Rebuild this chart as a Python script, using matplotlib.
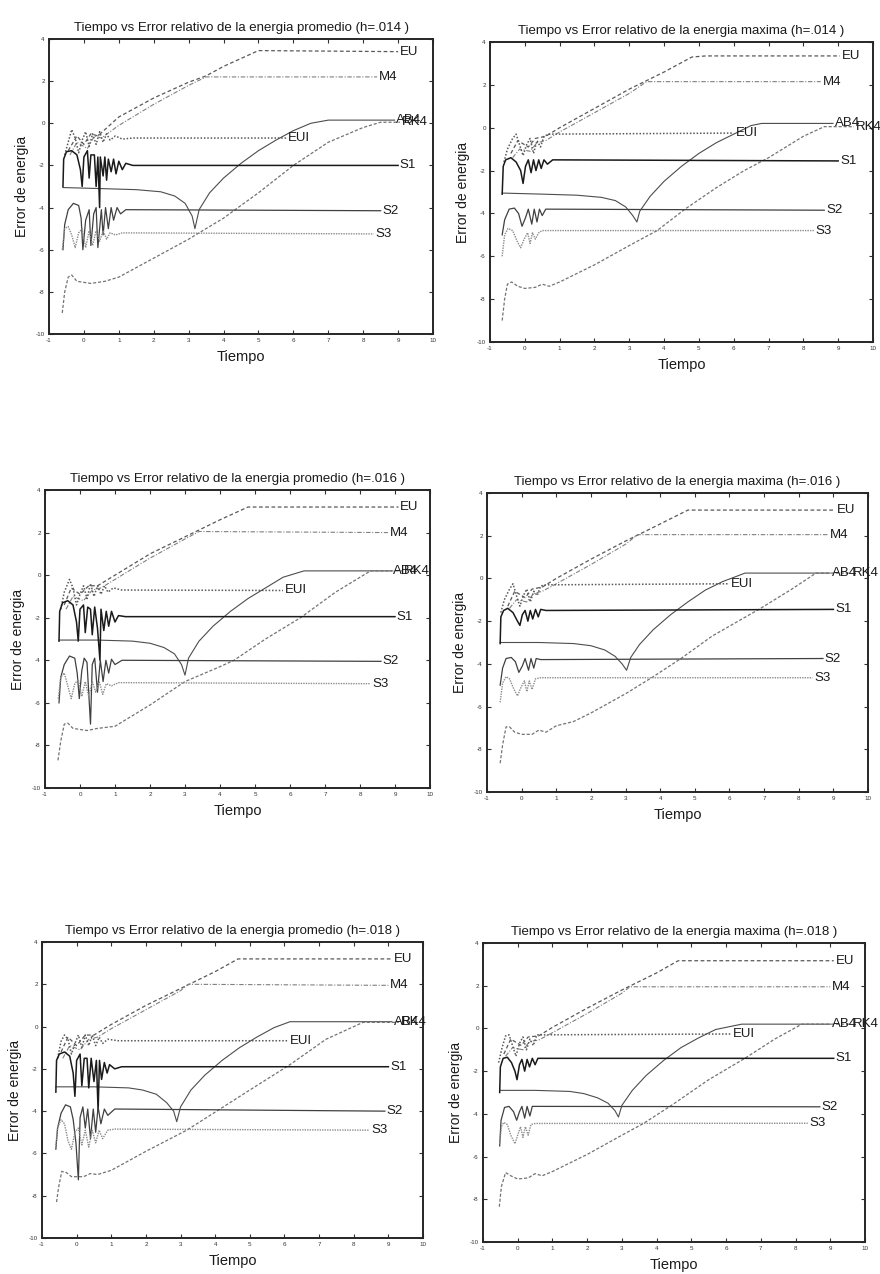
import matplotlib.pyplot as plt

plt.rcParams['font.family'] = ['Liberation Sans', 'DejaVu Sans']
plt.rcParams['axes.unicode_minus'] = False

# panel order: promedio .014, maxima .014, promedio .016, maxima .016, promedio .018, maxima .018
TITLES = [
    "Tiempo vs Error relativo de la energia promedio (h=.014 )",
    "Tiempo vs Error relativo de la energia maxima (h=.014 )",
    "Tiempo vs Error relativo de la energia promedio (h=.016 )",
    "Tiempo vs Error relativo de la energia maxima (h=.016 )",
    "Tiempo vs Error relativo de la energia promedio (h=.018 )",
    "Tiempo vs Error relativo de la energia maxima (h=.018 )",
]

EU = [
    [(-0.45, -1.3), (-0.2, -0.6), (0.0, -1.0), (0.2, -0.5), (0.4, -0.6), (0.6, -0.3), (1.0, 0.3), (2.0, 1.2), (3.0, 1.95), (3.5, 2.25), (4.0, 2.7), (5.0, 3.45), (9.0, 3.4)],
    [(-0.4, -1.2), (-0.2, -0.6), (0.1, -0.9), (0.3, -0.5), (0.6, -0.4), (1.0, 0.0), (2.0, 0.9), (3.0, 1.8), (4.0, 2.6), (4.8, 3.3), (5.2, 3.35), (9.05, 3.35)],
    [(-0.45, -1.4), (-0.25, -0.6), (0.0, -0.9), (0.25, -0.5), (0.5, -0.5), (1.0, 0.0), (2.0, 1.0), (3.0, 1.8), (4.0, 2.6), (4.8, 3.2), (9.1, 3.2)],
    [(-0.4, -1.3), (-0.2, -0.6), (0.1, -0.9), (0.3, -0.5), (0.6, -0.4), (1.0, 0.0), (2.0, 0.9), (3.0, 1.75), (4.0, 2.55), (4.8, 3.2), (9.05, 3.2)],
    [(-0.45, -1.2), (-0.25, -0.5), (0.0, -0.9), (0.25, -0.4), (0.5, -0.4), (1.0, 0.1), (2.0, 1.0), (3.0, 1.8), (4.0, 2.6), (4.66, 3.2), (9.1, 3.2)],
    [(-0.4, -1.2), (-0.2, -0.5), (0.1, -0.8), (0.3, -0.4), (0.6, -0.35), (1.0, 0.05), (2.0, 0.95), (3.0, 1.8), (4.0, 2.6), (4.62, 3.17), (9.1, 3.17)],
]

M4 = [
    [(-0.4, -1.5), (-0.2, -0.9), (0.1, -1.2), (0.3, -0.6), (0.5, -0.7), (1.0, -0.1), (2.0, 0.9), (3.0, 1.8), (3.5, 2.2), (8.4, 2.2)],
    [(-0.35, -1.4), (-0.15, -1.0), (0.15, -1.1), (0.35, -0.7), (0.6, -0.6), (1.0, -0.2), (2.0, 0.7), (3.0, 1.6), (3.5, 2.15), (8.5, 2.15)],
    [(-0.4, -1.6), (-0.2, -1.0), (0.1, -1.2), (0.35, -0.7), (0.6, -0.6), (1.0, -0.2), (2.0, 0.8), (3.0, 1.7), (3.4, 2.05), (8.8, 2.0)],
    [(-0.35, -1.4), (-0.15, -1.0), (0.15, -1.1), (0.35, -0.7), (0.6, -0.6), (1.0, -0.25), (2.0, 0.65), (3.0, 1.6), (3.35, 2.05), (8.85, 2.05)],
    [(-0.4, -1.5), (-0.2, -0.9), (0.1, -1.1), (0.35, -0.6), (0.6, -0.5), (1.0, -0.1), (2.0, 0.8), (3.0, 1.7), (3.22, 2.0), (9.0, 1.95)],
    [(-0.35, -1.3), (-0.15, -0.9), (0.15, -1.0), (0.35, -0.6), (0.6, -0.55), (1.0, -0.2), (2.0, 0.7), (3.0, 1.65), (3.23, 1.95), (9.0, 1.95)],
]

EUI = [
    [(-0.55, -1.5), (-0.45, -0.9), (-0.35, -0.3), (-0.25, -0.7), (-0.15, -1.4), (-0.05, -0.8), (0.05, -0.4), (0.15, -1.1), (0.25, -0.5), (0.35, -1.0), (0.45, -0.4), (0.55, -0.9), (0.65, -0.5), (0.75, -0.8), (0.9, -0.6), (1.1, -0.75), (1.4, -0.7), (5.8, -0.7)],
    [(-0.6, -1.6), (-0.5, -1.0), (-0.35, -0.5), (-0.25, -0.3), (-0.15, -0.8), (-0.05, -1.3), (0.05, -0.8), (0.15, -0.5), (0.25, -1.2), (0.35, -0.6), (0.45, -0.9), (0.55, -0.4), (0.7, -0.3), (6.0, -0.25)],
    [(-0.55, -1.6), (-0.45, -0.8), (-0.3, -0.2), (-0.2, -0.6), (-0.1, -1.4), (0.0, -0.9), (0.1, -0.5), (0.2, -1.1), (0.3, -0.4), (0.4, -1.0), (0.5, -0.5), (0.6, -0.9), (0.7, -0.5), (0.8, -0.8), (0.95, -0.6), (1.2, -0.7), (5.8, -0.72)],
    [(-0.6, -1.6), (-0.5, -1.0), (-0.35, -0.5), (-0.25, -0.25), (-0.15, -0.8), (-0.05, -1.3), (0.05, -0.8), (0.15, -0.5), (0.25, -1.1), (0.35, -0.6), (0.45, -0.8), (0.55, -0.35), (0.7, -0.3), (6.0, -0.25)],
    [(-0.55, -1.5), (-0.45, -0.7), (-0.35, -0.4), (-0.25, -0.6), (-0.15, -1.3), (-0.05, -0.8), (0.05, -0.4), (0.15, -1.0), (0.25, -0.4), (0.35, -0.9), (0.45, -0.4), (0.55, -0.9), (0.65, -0.5), (0.75, -0.8), (0.9, -0.6), (1.2, -0.67), (6.1, -0.67)],
    [(-0.55, -1.6), (-0.45, -0.9), (-0.35, -0.35), (-0.25, -0.3), (-0.15, -0.8), (-0.05, -1.3), (0.05, -0.7), (0.15, -0.4), (0.25, -1.0), (0.35, -0.5), (0.45, -0.8), (0.55, -0.3), (0.7, -0.3), (6.15, -0.26)],
]

AB4 = [
    [(-0.6, -3.05), (0.5, -3.1), (1.5, -3.15), (2.2, -3.25), (2.6, -3.45), (2.9, -3.8), (3.1, -4.4), (3.18, -5.0), (3.3, -4.1), (3.6, -3.3), (4.0, -2.6), (4.5, -1.9), (5.0, -1.3), (5.5, -0.8), (6.0, -0.35), (6.5, 0.0), (7.0, 0.15), (8.9, 0.15)],
    [(-0.65, -3.05), (0.5, -3.1), (1.5, -3.15), (2.2, -3.25), (2.6, -3.4), (2.9, -3.7), (3.1, -4.1), (3.22, -4.4), (3.3, -3.9), (3.6, -3.2), (4.0, -2.5), (4.5, -1.8), (5.0, -1.2), (5.5, -0.7), (6.0, -0.3), (6.5, 0.1), (6.8, 0.2), (8.85, 0.2)],
    [(-0.6, -3.05), (0.5, -3.05), (1.5, -3.1), (2.0, -3.2), (2.4, -3.4), (2.7, -3.7), (2.9, -4.2), (3.0, -4.7), (3.1, -3.9), (3.4, -3.1), (3.8, -2.4), (4.3, -1.7), (4.8, -1.1), (5.3, -0.6), (5.8, -0.1), (6.4, 0.2), (8.9, 0.2)],
    [(-0.62, -3.0), (0.5, -3.0), (1.5, -3.05), (2.0, -3.15), (2.4, -3.35), (2.7, -3.65), (2.9, -4.0), (3.03, -4.3), (3.15, -3.7), (3.4, -3.1), (3.8, -2.4), (4.3, -1.7), (4.8, -1.1), (5.3, -0.55), (5.8, -0.15), (6.45, 0.25), (8.9, 0.25)],
    [(-0.6, -2.85), (0.5, -2.85), (1.5, -2.9), (1.9, -3.0), (2.3, -3.2), (2.6, -3.6), (2.8, -4.0), (2.89, -4.5), (3.0, -3.8), (3.3, -3.0), (3.7, -2.3), (4.2, -1.6), (4.7, -1.0), (5.2, -0.5), (5.7, -0.05), (6.16, 0.23), (9.1, 0.23)],
    [(-0.52, -2.9), (0.5, -2.9), (1.5, -2.95), (1.9, -3.05), (2.3, -3.25), (2.6, -3.5), (2.8, -3.85), (2.9, -4.15), (3.0, -3.6), (3.3, -2.9), (3.7, -2.2), (4.2, -1.5), (4.7, -0.9), (5.2, -0.45), (5.7, -0.05), (6.45, 0.2), (9.0, 0.2)],
]

RK4 = [
    [(-0.62, -9.0), (-0.55, -8.0), (-0.45, -7.3), (-0.35, -7.2), (-0.2, -7.5), (0.2, -7.6), (0.6, -7.5), (1.0, -7.3), (2.0, -6.4), (3.0, -5.5), (4.0, -4.5), (5.0, -3.3), (6.0, -2.0), (7.0, -0.9), (8.0, -0.2), (8.5, 0.05), (9.05, 0.05)],
    [(-0.65, -9.0), (-0.58, -8.0), (-0.5, -7.3), (-0.38, -7.2), (-0.2, -7.4), (0.0, -7.5), (0.3, -7.45), (0.5, -7.3), (0.7, -7.4), (1.0, -7.2), (2.0, -6.4), (3.0, -5.5), (3.8, -4.8), (4.6, -3.8), (5.5, -2.8), (6.3, -2.0), (7.0, -1.4), (8.0, -0.4), (8.6, 0.05), (9.45, 0.05)],
    [(-0.63, -8.7), (-0.55, -7.8), (-0.45, -7.0), (-0.35, -6.95), (-0.2, -7.2), (0.2, -7.3), (0.5, -7.2), (1.0, -7.1), (2.0, -6.1), (3.0, -5.0), (4.0, -4.3), (4.4, -4.0), (5.3, -3.0), (6.3, -2.0), (7.3, -0.8), (8.3, 0.2), (9.2, 0.2)],
    [(-0.62, -8.65), (-0.55, -7.8), (-0.45, -6.95), (-0.35, -6.95), (-0.2, -7.2), (0.0, -7.3), (0.3, -7.3), (0.5, -7.1), (0.7, -7.2), (1.0, -6.9), (1.5, -6.7), (2.0, -6.3), (3.0, -5.4), (3.8, -4.6), (4.6, -3.75), (5.5, -2.7), (6.9, -1.4), (7.8, -0.5), (8.5, 0.25), (9.5, 0.25)],
    [(-0.58, -8.3), (-0.52, -7.6), (-0.43, -6.85), (-0.3, -6.9), (-0.15, -7.1), (0.2, -7.1), (0.4, -6.95), (0.6, -7.0), (1.0, -6.8), (2.0, -5.9), (3.18, -4.9), (4.14, -3.9), (5.0, -3.0), (6.16, -1.8), (7.2, -0.6), (8.27, 0.2), (9.3, 0.2)],
    [(-0.53, -8.35), (-0.47, -7.4), (-0.35, -6.75), (-0.2, -6.9), (0.0, -7.05), (0.3, -7.0), (0.5, -6.8), (0.7, -6.9), (1.0, -6.7), (2.0, -5.9), (3.0, -5.0), (3.62, -4.45), (4.43, -3.6), (5.5, -2.4), (6.54, -1.4), (7.4, -0.5), (8.18, 0.2), (9.6, 0.2)],
]

S1 = [
    [(-0.6, -3.0), (-0.58, -1.7), (-0.5, -1.35), (-0.35, -1.3), (-0.2, -1.5), (-0.1, -2.2), (-0.05, -3.0), (0.0, -1.6), (0.1, -1.3), (0.15, -2.6), (0.2, -1.5), (0.3, -1.5), (0.35, -3.0), (0.4, -1.6), (0.45, -4.0), (0.47, -1.6), (0.55, -2.5), (0.6, -1.6), (0.65, -2.7), (0.7, -1.7), (0.78, -2.3), (0.85, -1.7), (0.92, -2.4), (1.0, -1.8), (1.1, -2.2), (1.2, -1.9), (1.4, -2.0), (9.0, -2.0)],
    [(-0.65, -3.1), (-0.62, -1.8), (-0.55, -1.5), (-0.4, -1.4), (-0.25, -1.6), (-0.12, -2.0), (-0.05, -2.6), (0.02, -1.8), (0.1, -1.5), (0.18, -2.1), (0.25, -1.5), (0.32, -2.0), (0.4, -1.5), (0.47, -1.9), (0.55, -1.5), (0.65, -1.7), (0.8, -1.5), (9.0, -1.55)],
    [(-0.6, -3.1), (-0.58, -1.7), (-0.5, -1.3), (-0.35, -1.2), (-0.2, -1.4), (-0.1, -2.2), (-0.05, -3.1), (0.0, -1.6), (0.1, -1.4), (0.15, -2.7), (0.22, -1.5), (0.3, -1.6), (0.35, -2.8), (0.42, -1.5), (0.5, -2.5), (0.57, -4.0), (0.6, -1.6), (0.68, -2.6), (0.75, -1.7), (0.82, -2.4), (0.9, -1.7), (1.0, -2.2), (1.1, -1.9), (1.3, -1.95), (9.0, -1.95)],
    [(-0.62, -3.05), (-0.6, -1.8), (-0.52, -1.5), (-0.4, -1.4), (-0.25, -1.6), (-0.12, -2.0), (-0.05, -2.2), (0.02, -1.7), (0.1, -1.5), (0.18, -2.0), (0.25, -1.5), (0.32, -1.9), (0.4, -1.45), (0.48, -1.8), (0.55, -1.45), (0.7, -1.5), (9.0, -1.45)],
    [(-0.6, -3.1), (-0.58, -1.6), (-0.5, -1.3), (-0.35, -1.2), (-0.2, -1.4), (-0.1, -2.2), (-0.05, -3.3), (0.0, -1.6), (0.1, -1.3), (0.15, -2.8), (0.22, -1.5), (0.3, -1.5), (0.35, -2.9), (0.42, -1.5), (0.5, -2.6), (0.57, -1.6), (0.62, -4.0), (0.66, -1.6), (0.72, -2.5), (0.8, -1.7), (0.88, -2.2), (0.95, -1.8), (1.1, -2.0), (1.3, -1.9), (9.0, -1.9)],
    [(-0.52, -3.0), (-0.5, -1.8), (-0.42, -1.4), (-0.3, -1.35), (-0.18, -1.6), (-0.08, -2.0), (-0.02, -2.4), (0.05, -1.7), (0.12, -1.45), (0.2, -2.0), (0.27, -1.45), (0.34, -1.8), (0.42, -1.4), (0.5, -1.7), (0.58, -1.4), (0.7, -1.4), (9.1, -1.4)],
]

S2 = [
    [(-0.6, -6.0), (-0.55, -4.8), (-0.45, -4.1), (-0.3, -3.8), (-0.15, -3.9), (-0.08, -4.5), (-0.03, -6.0), (0.05, -4.6), (0.15, -4.1), (0.2, -5.8), (0.28, -4.3), (0.35, -4.0), (0.4, -5.9), (0.5, -4.1), (0.55, -5.3), (0.62, -4.0), (0.7, -5.0), (0.78, -4.0), (0.85, -4.6), (0.95, -4.0), (1.05, -4.3), (1.2, -4.1), (8.5, -4.15)],
    [(-0.65, -5.0), (-0.58, -4.3), (-0.45, -3.8), (-0.3, -3.75), (-0.18, -4.0), (-0.08, -4.6), (0.02, -4.2), (0.1, -3.8), (0.2, -4.5), (0.27, -3.8), (0.35, -4.4), (0.42, -3.8), (0.5, -4.1), (0.6, -3.8), (8.6, -3.85)],
    [(-0.6, -6.0), (-0.55, -4.8), (-0.45, -4.2), (-0.3, -3.8), (-0.15, -3.9), (-0.08, -4.6), (-0.02, -5.8), (0.05, -4.5), (0.12, -3.9), (0.2, -4.1), (0.3, -7.0), (0.35, -4.2), (0.42, -3.9), (0.5, -5.5), (0.58, -4.0), (0.66, -5.0), (0.74, -4.0), (0.82, -4.6), (0.9, -3.95), (1.0, -4.2), (1.2, -4.0), (8.6, -4.05)],
    [(-0.62, -5.0), (-0.55, -4.2), (-0.45, -3.75), (-0.3, -3.7), (-0.18, -3.9), (-0.08, -4.4), (0.02, -4.1), (0.1, -3.75), (0.2, -4.3), (0.27, -3.75), (0.35, -4.2), (0.42, -3.75), (0.55, -3.8), (8.7, -3.75)],
    [(-0.6, -5.8), (-0.55, -4.8), (-0.45, -4.1), (-0.32, -3.7), (-0.18, -3.8), (-0.1, -4.4), (-0.02, -5.5), (0.05, -7.25), (0.1, -4.3), (0.18, -3.8), (0.25, -4.8), (0.32, -3.9), (0.4, -5.3), (0.48, -3.9), (0.55, -5.0), (0.62, -3.8), (0.7, -4.6), (0.8, -3.9), (0.9, -4.2), (1.1, -3.9), (8.9, -4.0)],
    [(-0.52, -5.5), (-0.48, -4.3), (-0.38, -3.7), (-0.25, -3.65), (-0.12, -3.9), (-0.03, -4.3), (0.05, -3.9), (0.12, -3.65), (0.2, -4.2), (0.27, -3.65), (0.35, -4.1), (0.42, -3.65), (0.55, -3.65), (8.7, -3.67)],
]

S3 = [
    [(-0.62, -6.0), (-0.55, -5.0), (-0.45, -4.9), (-0.35, -5.3), (-0.25, -5.9), (-0.15, -5.2), (-0.05, -5.0), (0.05, -5.9), (0.15, -5.1), (0.25, -5.8), (0.35, -5.1), (0.45, -5.6), (0.55, -5.1), (0.65, -5.5), (0.75, -5.2), (0.9, -5.3), (1.1, -5.2), (8.3, -5.25)],
    [(-0.65, -6.0), (-0.58, -5.0), (-0.48, -4.7), (-0.35, -4.8), (-0.22, -5.3), (-0.12, -5.6), (-0.02, -5.2), (0.08, -4.9), (0.15, -5.4), (0.22, -4.9), (0.3, -5.2), (0.4, -4.9), (0.5, -4.8), (8.3, -4.8)],
    [(-0.62, -5.8), (-0.55, -4.8), (-0.45, -4.6), (-0.35, -5.2), (-0.25, -5.8), (-0.15, -5.1), (-0.05, -4.9), (0.05, -5.7), (0.15, -5.0), (0.25, -5.7), (0.35, -5.0), (0.45, -5.5), (0.55, -5.0), (0.65, -5.6), (0.75, -5.1), (0.9, -5.2), (1.1, -5.05), (8.3, -5.1)],
    [(-0.62, -5.8), (-0.55, -4.9), (-0.45, -4.6), (-0.35, -4.7), (-0.22, -5.2), (-0.12, -5.5), (-0.02, -5.1), (0.08, -4.8), (0.15, -5.3), (0.22, -4.8), (0.3, -5.2), (0.4, -4.7), (0.55, -4.65), (8.4, -4.65)],
    [(-0.6, -5.6), (-0.55, -4.8), (-0.45, -4.4), (-0.35, -4.6), (-0.25, -5.4), (-0.15, -5.8), (-0.05, -5.0), (0.05, -4.8), (0.15, -5.6), (0.25, -4.9), (0.35, -5.7), (0.45, -4.9), (0.55, -5.5), (0.65, -4.9), (0.75, -5.3), (0.9, -4.9), (1.1, -4.85), (8.45, -4.9)],
    [(-0.52, -5.4), (-0.47, -4.6), (-0.4, -4.4), (-0.3, -4.5), (-0.2, -5.0), (-0.08, -5.4), (0.0, -5.0), (0.08, -4.6), (0.15, -5.1), (0.22, -4.6), (0.3, -5.0), (0.38, -4.5), (0.5, -4.45), (8.35, -4.44)],
]

# name, data, colour, linestyle, linewidth
SERIES = [
    ("EU", EU, "0.35", (0, (3, 2)), 0.9),
    ("M4", M4, "0.5", (0, (4, 1.5, 1, 1.5)), 0.8),
    ("EUI", EUI, "0.35", (0, (1, 1.2)), 1.1),
    ("AB4", AB4, "0.3", "-", 0.8),
    ("RK4", RK4, "0.45", (0, (2.5, 1.5)), 0.9),
    ("S1", S1, "0.1", "-", 1.1),
    ("S2", S2, "0.25", "-", 0.9),
    ("S3", S3, "0.55", (0, (1, 0.8)), 1.0),
]

# axes boxes in pixels: left, top, right, bottom (880x1274 canvas)
BOXES = [
    (49, 39, 433, 334), (490, 42, 873, 342),
    (45, 490, 430, 788), (487, 493, 868, 792),
    (42, 942, 423, 1238), (483, 943, 865, 1242),
]

W, H = 880, 1274
fig = plt.figure(figsize=(W / 100, H / 100), dpi=100)

for i, (l, t, r, b) in enumerate(BOXES):
    ax = fig.add_axes([l / W, 1 - b / H, (r - l) / W, (b - t) / H])
    for name, data, color, ls, lw in SERIES:
        xs, ys = zip(*data[i])
        ax.plot(xs, ys, color=color, linestyle=ls, linewidth=lw)
        ax.text(xs[-1] + 0.05, ys[-1], name, fontsize=9.5, ha="left", va="center",
                color="0.1", clip_on=False)
    ax.set_xlim(-1, 10)
    ax.set_ylim(-10, 4)
    ax.set_xticks(range(-1, 11))
    ax.set_yticks(range(-10, 5, 2))
    ax.tick_params(direction="in", top=True, right=True, length=3, width=0.8,
                   labelsize=4.5, pad=3, colors="0.2")
    for sp in ax.spines.values():
        sp.set_linewidth(1.4)
        sp.set_color("0.15")
    ax.set_title(TITLES[i], fontsize=9.5, pad=6, color="0.1")
    ax.set_xlabel("Tiempo", fontsize=10.5, labelpad=5, color="0.1")
    ax.set_ylabel("Error de energia", fontsize=10, labelpad=5, color="0.1")

fig.savefig("out.png", dpi=100)
